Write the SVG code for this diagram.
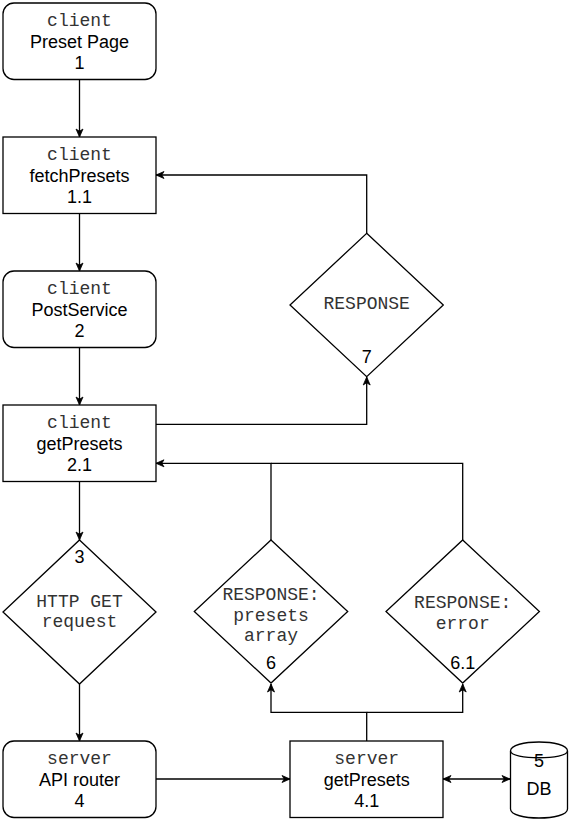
<svg xmlns="http://www.w3.org/2000/svg" width="571" height="820" viewBox="0 0 571 820">
<style>
.shape{fill:#ffffff;stroke:#000000;stroke-width:1.3}
.edge{fill:none;stroke:#000000;stroke-width:1.3}
.mono{font-family:"Liberation Mono","Courier New",monospace;font-size:18px;fill:#333333;text-anchor:middle}
.sans{font-family:"Liberation Sans",Arial,sans-serif;font-size:18px;fill:#000000;text-anchor:middle}
</style>
<defs>
<marker id="arr" markerUnits="userSpaceOnUse" markerWidth="9" markerHeight="8" refX="8" refY="4" orient="auto-start-reverse" overflow="visible">
<path d="M0,0.5 L8,4 L0,7.5 L2.2,4 z" fill="#000000" stroke="#000000" stroke-width="0.8"/>
</marker>
</defs>
<rect width="571" height="820" fill="#ffffff"/>
<g id="connectors">
<path class="edge" d="M79.5,80 L79.5,137" marker-end="url(#arr)"/>
<path class="edge" d="M79.5,213 L79.5,271" marker-end="url(#arr)"/>
<path class="edge" d="M79.5,347 L79.5,405" marker-end="url(#arr)"/>
<path class="edge" d="M79.5,481 L79.5,540" marker-end="url(#arr)"/>
<path class="edge" d="M79.5,684 L79.5,741" marker-end="url(#arr)"/>
<path class="edge" d="M156,779 L290,779" marker-end="url(#arr)"/>
<path class="edge" d="M443,779 L510,779" marker-start="url(#arr)" marker-end="url(#arr)"/>
<path class="edge" d="M366.7,741 L366.7,712.3 L271,712.3 L271,684" marker-end="url(#arr)"/>
<path class="edge" d="M366.7,712.3 L462.7,712.3 L462.7,684" marker-end="url(#arr)"/>
<path class="edge" d="M271,540 L271,463.3 L156,463.3" marker-end="url(#arr)"/>
<path class="edge" d="M462.7,540 L462.7,463.3 L271,463.3"/>
<path class="edge" d="M156,424.3 L366.7,424.3 L366.7,377" marker-end="url(#arr)"/>
<path class="edge" d="M366.7,233.3 L366.7,175 L156,175" marker-end="url(#arr)"/>
</g>
<g id="n1">
<rect class="shape" x="3" y="3" width="153" height="76.5" rx="11" ry="11"/>
<text class="mono" x="79.5" y="26">client</text>
<text class="sans" x="79.5" y="47.5">Preset Page</text>
<text class="sans" x="79.5" y="68.5">1</text>
</g>
<g id="n1_1">
<rect class="shape" x="3" y="137" width="153" height="76.5"/>
<text class="mono" x="79.5" y="159.5">client</text>
<text class="sans" x="79.5" y="181.5">fetchPresets</text>
<text class="sans" x="79.5" y="202.5">1.1</text>
</g>
<g id="n2">
<rect class="shape" x="3" y="271" width="153" height="76.5" rx="11" ry="11"/>
<text class="mono" x="79.5" y="293.5">client</text>
<text class="sans" x="79.5" y="315.5">PostService</text>
<text class="sans" x="79.5" y="336.5">2</text>
</g>
<g id="n2_1">
<rect class="shape" x="3" y="405" width="153" height="76.5"/>
<text class="mono" x="79.5" y="427.5">client</text>
<text class="sans" x="79.5" y="449.5">getPresets</text>
<text class="sans" x="79.5" y="470.5">2.1</text>
</g>
<g id="n3">
<path class="shape" d="M79.5,540 L156,612 L79.5,684 L3,612 Z"/>
<text class="sans" x="79.5" y="563">3</text>
<text class="mono" x="79.5" y="607">HTTP GET</text>
<text class="mono" x="79.5" y="627">request</text>
</g>
<g id="n4">
<rect class="shape" x="3" y="741" width="153" height="76.5" rx="11" ry="11"/>
<text class="mono" x="79.5" y="763.5">server</text>
<text class="sans" x="79.5" y="785.5">API router</text>
<text class="sans" x="79.5" y="806.5">4</text>
</g>
<g id="n4_1">
<rect class="shape" x="290" y="741" width="153" height="76.5"/>
<text class="mono" x="366.7" y="763.5">server</text>
<text class="sans" x="366.7" y="785.5">getPresets</text>
<text class="sans" x="366.7" y="806.5">4.1</text>
</g>
<g id="n5">
<path class="shape" d="M510.5,751 C510.5,739 567.5,739 567.5,751 L567.5,809 C567.5,821 510.5,821 510.5,809 Z"/>
<path class="edge" d="M510.5,751 C510.5,760 567.5,760 567.5,751"/>
<text class="sans" x="539" y="767">5</text>
<text class="sans" x="539" y="795">DB</text>
</g>
<g id="n6">
<path class="shape" d="M271,540 L347.7,611.5 L271,683 L194.3,611.5 Z"/>
<text class="mono" x="271" y="600">RESPONSE:</text>
<text class="mono" x="271" y="620.5">presets</text>
<text class="mono" x="271" y="641">array</text>
<text class="sans" x="271" y="669">6</text>
</g>
<g id="n6_1">
<path class="shape" d="M462.7,540 L539.4,611.5 L462.7,683 L386,611.5 Z"/>
<text class="mono" x="462.7" y="608">RESPONSE:</text>
<text class="mono" x="462.7" y="629">error</text>
<text class="sans" x="462.7" y="669">6.1</text>
</g>
<g id="n7">
<path class="shape" d="M366.7,233.3 L443.3,305 L366.7,376.7 L290,305 Z"/>
<text class="mono" x="366.7" y="309">RESPONSE</text>
<text class="sans" x="366.7" y="363">7</text>
</g>
</svg>
